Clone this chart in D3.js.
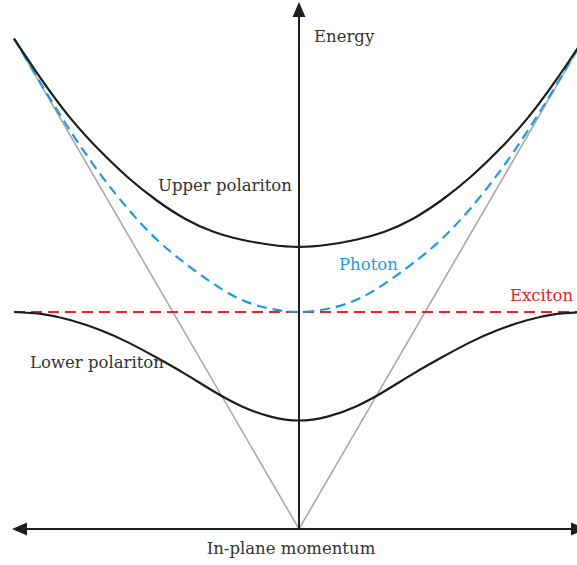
<!DOCTYPE html>
<html>
<head>
<meta charset="utf-8">
<script src="https://cdn.jsdelivr.net/npm/d3@7"></script>
<style>
  html, body { margin: 0; padding: 0; background: #fff; }
  svg { display: block; }
  text { font-family: "DejaVu Serif", serif; font-size: 16.5px; }
</style>
</head>
<body>
<svg id="chart" width="577" height="565"></svg>
<script>
// In-plane momentum (normalised), left edge -1 to right edge +1
const momentum = [-1.0, -0.9, -0.8, -0.7, -0.6, -0.5, -0.4, -0.3, -0.2, -0.1, 0.0,
                   0.1, 0.2, 0.3, 0.4, 0.5, 0.6, 0.7, 0.8, 0.9, 1.0];
// Energies (exciton energy = 1)
const photon = [2.26, 2.04, 1.83, 1.64, 1.475, 1.335, 1.225, 1.13, 1.055, 1.015, 1.00,
                1.015, 1.055, 1.13, 1.225, 1.335, 1.475, 1.64, 1.83, 2.04, 2.26];
const upperPolariton = [2.26, 2.065, 1.89, 1.745, 1.62, 1.515, 1.43, 1.37, 1.333, 1.31, 1.30,
                        1.31, 1.333, 1.37, 1.43, 1.515, 1.62, 1.745, 1.89, 2.065, 2.26];
const lowerPolariton = [1.00, 0.99, 0.962, 0.918, 0.86, 0.79, 0.715, 0.635, 0.565, 0.518, 0.50,
                        0.518, 0.565, 0.635, 0.715, 0.79, 0.86, 0.918, 0.962, 0.99, 1.00];
const excitonEnergy = [1.00, 1.00];
const excitonMomentum = [-1.0, 1.0];
// Light cone
const lightConeMomentum = [-1.0, 0.0, 1.0];
const lightConeEnergy = [2.26, 0.0, 2.26];
const axisLabels = ["Energy", "In-plane momentum"];
const curveLabels = ["Upper polariton", "Photon", "Exciton", "Lower polariton"];

const svg = d3.select("#chart");
const x = d3.scaleLinear().domain([-1, 1]).range([14, 584]);
const y = d3.scaleLinear().domain([0, 1]).range([529, 312]);

const line = d3.line().x(d => x(d[0])).y(d => y(d[1])).curve(d3.curveNatural);
const straight = d3.line().x(d => x(d[0])).y(d => y(d[1]));
const zip = (a, b) => a.map((v, i) => [v, b[i]]);

// light cone
svg.append("path")
  .attr("d", straight(zip(lightConeMomentum, lightConeEnergy)))
  .attr("fill", "none").attr("stroke", "#a9a9a9").attr("stroke-width", 1.6);

// exciton
svg.append("path")
  .attr("d", straight(zip(excitonMomentum, excitonEnergy)))
  .attr("fill", "none").attr("stroke", "#e8232b").attr("stroke-width", 2)
  .attr("stroke-dasharray", "11,6");

// photon
svg.append("path")
  .attr("d", line(zip(momentum, photon)))
  .attr("fill", "none").attr("stroke", "#1f9be0").attr("stroke-width", 2.2)
  .attr("stroke-dasharray", "10,6");

// polaritons
[upperPolariton, lowerPolariton].forEach(arr => {
  svg.append("path")
    .attr("d", line(zip(momentum, arr)))
    .attr("fill", "none").attr("stroke", "#1c1c1c").attr("stroke-width", 2.2);
});

// axes
const x0 = x(0), yBase = y(0), axisColor = "#1e1e1e";
const xLeftTip = x(-1) - 2, xRightTip = x(1) + 2, yTopTip = 2;
svg.append("line").attr("x1", x0).attr("x2", x0).attr("y1", yBase).attr("y2", yTopTip + 10)
  .attr("stroke", axisColor).attr("stroke-width", 2);
svg.append("line").attr("x1", xLeftTip + 10).attr("x2", xRightTip - 10).attr("y1", yBase).attr("y2", yBase)
  .attr("stroke", axisColor).attr("stroke-width", 2);
const arrow = (pts) => svg.append("path").attr("d", "M" + pts.map(p => p.join(",")).join("L") + "Z").attr("fill", axisColor);
arrow([[x0, yTopTip], [x0 - 6.5, yTopTip + 15], [x0 + 6.5, yTopTip + 15]]);
arrow([[xLeftTip, yBase], [xLeftTip + 15, yBase - 6.5], [xLeftTip + 15, yBase + 6.5]]);
arrow([[xRightTip, yBase], [xRightTip - 15, yBase - 6.5], [xRightTip - 15, yBase + 6.5]]);

// labels
const txt = (s, px, py, color, anchor) => svg.append("text").text(s)
  .attr("x", px).attr("y", py).attr("fill", color).attr("text-anchor", anchor || "start");
txt(axisLabels[0], 314, 42, "#333");
txt(axisLabels[1], 291, 554, "#333", "middle");
txt(curveLabels[0], 158, 191, "#333");
txt(curveLabels[1], 339, 270, "#1f9be0");
txt(curveLabels[2], 510, 301, "#e8232b");
txt(curveLabels[3], 30, 368, "#333");
</script>
</body>
</html>
